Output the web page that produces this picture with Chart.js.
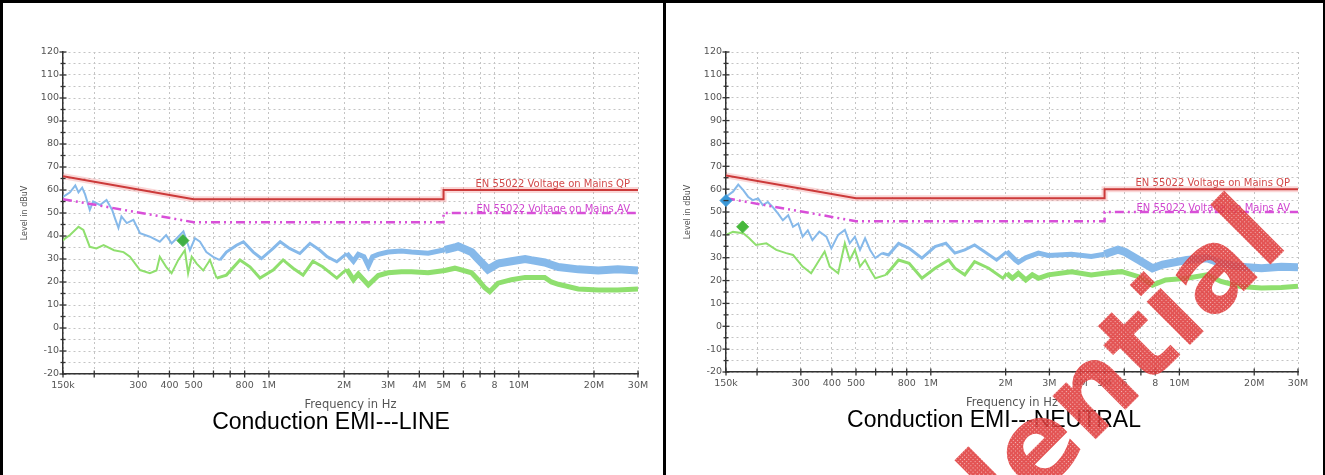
<!DOCTYPE html>
<html>
<head>
<meta charset="utf-8">
<script src="https://cdn.jsdelivr.net/npm/chart.js@4.4.0/dist/chart.umd.min.js"></script>
<style>
  body { margin: 0; background: #fff; width: 1325px; height: 475px; overflow: hidden; position: relative; font-family: "Liberation Sans", Arial, sans-serif; }
  canvas { position: absolute; top: 0; }
  #lineChart { left: 0; }
  #neutralChart { left: 663px; }
  .rule { position: absolute; background: #000; }
  .caption { position: absolute; font-size: 23px; line-height: 23px; color: #000; text-align: center; white-space: nowrap; }
  #wm { position: absolute; left: 0; top: 0; pointer-events: none; }
</style>
</head>
<body>
<canvas id="lineChart" width="663" height="475"></canvas>
<canvas id="neutralChart" width="662" height="475"></canvas>

<div class="rule" style="left:0;top:0;width:1325px;height:3px"></div>
<div class="rule" style="left:0;top:0;width:3px;height:475px"></div>
<div class="rule" style="left:663px;top:0;width:3px;height:475px"></div>
<div class="rule" style="left:1323px;top:0;width:2px;height:475px"></div>

<div class="caption" style="left:131px;width:400px;top:410px">Conduction EMI---LINE</div>
<div class="caption" style="left:794px;width:400px;top:408px">Conduction EMI---NEUTRAL</div>

<svg id="wm" width="1325" height="475">
  <defs>
    <pattern id="hatch" width="3" height="3" patternUnits="userSpaceOnUse">
      <rect width="3" height="3" fill="#df3c3c"/>
      <rect width="1" height="1" fill="#f4b0b0"/>
    </pattern>
  </defs>
  <text x="751" y="784" transform="rotate(-45 751 784)" font-family="DejaVu Sans" font-weight="bold" font-size="112" fill="url(#hatch)" fill-opacity="0.88">Confidential</text>
</svg>

<script>
// axis ticks (MHz)
const xTickValues = [0.15, 0.2, 0.3, 0.4, 0.5, 0.6, 0.7, 0.8, 1, 2, 3, 4, 5, 6, 7, 8, 10, 20, 30]
const xTickLabels = ["150k", "", "300", "400", "500", "", "", "800", "1M", "2M", "3M", "4M", "5M", "6", "", "8", "10M", "20M", "30M"]

// EN 55022 limits
const limitFreq = [0.15, 0.5, 5, 5, 30]
const qpLimit = [66, 56, 56, 60, 60]
const avLimit = [56, 46, 46, 50, 50]
const qpLabel = "EN 55022 Voltage on Mains QP"
const avLabel = "EN 55022 Voltage on Mains AV"

// LINE - peak (blue)
const linePeakFreq = [0.15, 0.16, 0.168, 0.173, 0.179, 0.184, 0.192, 0.198, 0.211, 0.224, 0.236, 0.242, 0.25, 0.257, 0.27, 0.287, 0.305, 0.334, 0.366, 0.388, 0.408, 0.434, 0.455, 0.483, 0.506, 0.53, 0.562, 0.598, 0.637, 0.676, 0.742, 0.791, 0.866, 0.934, 1.04, 1.11, 1.21, 1.33, 1.46, 1.6, 1.71, 1.87, 2.05, 2.18, 2.28, 2.4, 2.5, 2.6, 2.74, 3.0, 3.39, 3.72, 4.34, 5.06, 5.55, 5.72, 6.47, 6.87, 7.31, 7.53, 8.26, 9.35, 10.6, 11.2, 12.7, 13.5, 14.4, 17.3, 20.8, 24.9, 30]
const linePeakLevel = [57, 59, 62, 59, 61, 58, 51.3, 55, 53.5, 55.7, 51.3, 47.8, 43.5, 48.5, 45.6, 47, 41.2, 39.7, 37.5, 40.4, 36.8, 39.7, 42, 33.8, 39, 37.5, 33, 30.9, 29.5, 33, 36, 37.5, 33, 30.2, 34.6, 37.5, 34.6, 32.4, 36.8, 33.8, 31, 28.8, 32.4, 29, 32, 31, 27, 31, 32, 33, 33.5, 33, 32.5, 34, 35, 35.5, 33, 30, 27, 25.5, 28, 29, 30, 29.5, 28.5, 27.5, 26.5, 25.5, 25, 25.5, 25]

// LINE - average (green)
const lineAvgFreq = [0.15, 0.153, 0.16, 0.173, 0.181, 0.192, 0.204, 0.218, 0.24, 0.262, 0.278, 0.305, 0.334, 0.355, 0.366, 0.388, 0.408, 0.434, 0.461, 0.475, 0.491, 0.514, 0.546, 0.581, 0.618, 0.676, 0.766, 0.84, 0.921, 1.04, 1.14, 1.25, 1.37, 1.5, 1.64, 1.87, 1.97, 2.05, 2.18, 2.28, 2.5, 2.74, 3.0, 3.39, 3.72, 4.34, 5.06, 5.55, 6.47, 6.87, 7.31, 7.65, 8.26, 9.35, 10.6, 12.7, 13.5, 14.4, 17.3, 20.8, 24.9, 30]
const lineAvgLevel = [38, 39, 40.4, 44, 42.6, 35.3, 34.6, 36, 33.8, 33, 31, 25.2, 23.8, 25, 31, 26.6, 23.8, 29.6, 33.8, 23.8, 31, 28, 25, 29.6, 21.7, 23, 29.6, 26.6, 21.7, 25.2, 29.6, 26, 23, 29, 26.6, 21.7, 24, 25.5, 21, 23.5, 18.7, 22.8, 24, 24.5, 24.5, 24, 25, 26, 24, 21, 17.5, 15.8, 19.5, 21, 22, 22, 20, 19, 17, 16.5, 16.5, 17]

// NEUTRAL - peak (blue)
const neutralPeakFreq = [0.15, 0.16, 0.168, 0.176, 0.184, 0.192, 0.202, 0.211, 0.221, 0.231, 0.243, 0.254, 0.267, 0.279, 0.293, 0.305, 0.32, 0.334, 0.356, 0.38, 0.398, 0.424, 0.451, 0.472, 0.495, 0.519, 0.544, 0.57, 0.598, 0.637, 0.676, 0.742, 0.818, 0.921, 1.04, 1.15, 1.25, 1.37, 1.5, 1.64, 1.84, 2.02, 2.19, 2.25, 2.41, 2.71, 2.97, 3.68, 4.42, 5.0, 5.66, 6.04, 6.86, 7.79, 8.57, 10.7, 12.9, 14.7, 17.6, 21.4, 25.7, 30]
const neutralPeakLevel = [56.7, 58.9, 62, 59.6, 56.7, 55.2, 55.9, 53, 54.4, 52.2, 49.3, 46.4, 48.6, 43.5, 45, 39.2, 42, 37.7, 41.4, 39.2, 34.1, 40, 42.2, 36.3, 39.2, 33.4, 38.5, 33.4, 29.8, 32, 31.2, 36.3, 34.1, 29.8, 34.9, 36.3, 32, 33.4, 35.6, 32.7, 29, 32.7, 29, 28, 30, 32, 31, 31.5, 30.5, 31.5, 33.5, 32.5, 29, 25.4, 27, 29, 29.8, 27.6, 26, 25.4, 26, 25.8]

// NEUTRAL - average (green)
const neutralAvgFreq = [0.15, 0.16, 0.176, 0.186, 0.198, 0.218, 0.239, 0.262, 0.279, 0.305, 0.33, 0.356, 0.374, 0.392, 0.424, 0.451, 0.472, 0.495, 0.519, 0.544, 0.57, 0.598, 0.66, 0.742, 0.818, 0.921, 1.04, 1.18, 1.25, 1.37, 1.5, 1.71, 1.95, 2.02, 2.13, 2.25, 2.41, 2.56, 2.71, 2.97, 3.68, 4.42, 5.0, 5.85, 6.86, 7.79, 8.8, 10.7, 12.9, 14.7, 17.6, 21.4, 25.7, 30]
const neutralAvgLevel = [40, 41.3, 40.7, 38.5, 35.6, 36.3, 33.4, 32, 31.2, 26.1, 23.2, 29, 32.7, 26.1, 23.2, 36.3, 29, 33.4, 26.1, 29, 24.7, 21, 22.5, 29, 27.6, 21, 25.4, 29, 25.4, 22.5, 28.3, 25.4, 21, 23.2, 21, 23.2, 20.3, 22.5, 21, 22.5, 23.9, 22.5, 23.2, 23.9, 21.7, 18, 20.3, 21, 22.5, 19.6, 17.4, 16.8, 17, 17.5]

// final measurement markers
const lineMarkFreq = [0.453]
const lineMarkLevel = [38]
const neutralPeakMarkFreq = [0.15]
const neutralPeakMarkLevel = [55]
const neutralAvgMarkFreq = [0.175]
const neutralAvgMarkLevel = [43.5]

const pts = (fs, vs) => fs.map((f, i) => ({ x: f, y: vs[i] }))

const peakWidth = (f) => (f < 0.6 ? 2 : f < 2 ? 3 : f < 5 ? 5 : 8)
const avgWidth = (f) => (f < 0.6 ? 2 : f < 2 ? 3 : 5)

// crosses on the axes + limit labels
const decorPlugin = {
  id: "decor",
  afterDatasetsDraw(chart) {
    const { ctx } = chart
    const x = chart.scales.x
    const y = chart.scales.y
    ctx.save()
    ctx.font = '10px "DejaVu Sans"'
    ctx.textAlign = "right"
    ctx.textBaseline = "alphabetic"
    ctx.fillStyle = "#d24a4a"
    ctx.fillText(qpLabel, x.getPixelForValue(30) - 8, y.getPixelForValue(60) - 3)
    ctx.fillStyle = "#cf46cf"
    ctx.fillText(avLabel, x.getPixelForValue(30) - 8, y.getPixelForValue(50) - 1)
    ctx.restore()
  },
  afterDraw(chart) {
    const { ctx, chartArea } = chart
    const x = chart.scales.x
    const y = chart.scales.y
    ctx.save()
    ctx.strokeStyle = "#333"
    ctx.lineWidth = 1.3
    y.ticks.forEach((t) => {
      const py = y.getPixelForValue(t.value)
      const len = t.value % 10 === 0 ? 3.5 : 2.5
      ctx.beginPath()
      ctx.moveTo(chartArea.left - len, py)
      ctx.lineTo(chartArea.left + len, py)
      ctx.stroke()
    })
    x.ticks.forEach((t) => {
      const px = x.getPixelForValue(t.value)
      ctx.beginPath()
      ctx.moveTo(px, chartArea.bottom - 3.5)
      ctx.lineTo(px, chartArea.bottom + 3.5)
      ctx.stroke()
    })
    ctx.restore()
  },
}

function makeChart(id, padRight, xHeight, bottomPad, datasets) {
  return new Chart(document.getElementById(id), {
    type: "line",
    data: { datasets },
    options: {
      responsive: false,
      animation: false,
      devicePixelRatio: 1,
      layout: { padding: { left: 0, top: 52, right: padRight, bottom: bottomPad } },
      plugins: { legend: { display: false }, tooltip: { enabled: false } },
      elements: { point: { radius: 0 }, line: { tension: 0 } },
      scales: {
        x: {
          type: "logarithmic",
          min: 0.15,
          max: 30,
          afterBuildTicks: (s) => {
            s.ticks = xTickValues.map((v) => ({ value: v }))
          },
          afterFit: (s) => {
            s.height = xHeight
          },
          ticks: {
            autoSkip: false,
            maxRotation: 0,
            padding: 6,
            color: "#555",
            font: { family: "DejaVu Sans", size: 9.5 },
            callback: (v, i) => xTickLabels[i],
          },
          grid: { drawTicks: false, color: "#c4c4c4", lineWidth: 1 },
          border: { display: true, color: "#333", width: 1.5, dash: [2, 3] },
          title: {
            display: true,
            text: "Frequency in Hz",
            color: "#555",
            font: { family: "DejaVu Sans", size: 11.5 },
            padding: { top: 0, bottom: 2 },
          },
        },
        y: {
          min: -20,
          max: 120,
          afterFit: (s) => {
            s.width = 63
          },
          ticks: {
            stepSize: 5,
            autoSkip: false,
            padding: 4,
            color: "#555",
            font: { family: "DejaVu Sans", size: 9.5 },
            callback: (v) => (v % 10 === 0 ? v : ""),
          },
          grid: { drawTicks: false, color: "#c4c4c4", lineWidth: 1 },
          border: { display: true, color: "#333", width: 1.5, dash: [2, 3] },
          title: {
            display: true,
            text: "Level in dBuV",
            color: "#555",
            font: { family: "DejaVu Sans", size: 8 },
            padding: { top: 20, bottom: 0 },
          },
        },
      },
    },
    plugins: [decorPlugin],
  })
}

function limitSets() {
  return [
    { data: pts(limitFreq, qpLimit), borderColor: "#cc3a3a", borderWidth: 2 },
    { data: pts(limitFreq, avLimit), borderColor: "#d84fd8", borderWidth: 2.5, borderDash: [9, 4, 2, 4, 2, 4] },
    { data: pts(limitFreq, qpLimit), borderColor: "rgba(240,140,140,0.35)", borderWidth: 6 },
  ]
}

function traceSet(fs, vs, color, widthFn) {
  return {
    data: pts(fs, vs),
    borderColor: color,
    borderWidth: 2,
    segment: { borderWidth: (c) => widthFn(c.p0.parsed.x) },
  }
}

function markerSet(fs, vs, color) {
  return {
    data: pts(fs, vs),
    showLine: false,
    clip: false,
    pointStyle: "rectRot",
    pointRadius: 6,
    pointBackgroundColor: color,
    pointBorderColor: color,
  }
}

makeChart("lineChart", 25, 40, 61, [
  markerSet(lineMarkFreq, lineMarkLevel, "#3fb044"),
  ...limitSets(),
  traceSet(lineAvgFreq, lineAvgLevel, "#8fdf6e", avgWidth),
  traceSet(linePeakFreq, linePeakLevel, "#86b9ea", peakWidth),
])

makeChart("neutralChart", 27, 40, 63, [
  markerSet(neutralPeakMarkFreq, neutralPeakMarkLevel, "#3a98d8"),
  markerSet(neutralAvgMarkFreq, neutralAvgMarkLevel, "#47b83c"),
  ...limitSets(),
  traceSet(neutralAvgFreq, neutralAvgLevel, "#8fdf6e", avgWidth),
  traceSet(neutralPeakFreq, neutralPeakLevel, "#86b9ea", peakWidth),
])
</script>
</body>
</html>
